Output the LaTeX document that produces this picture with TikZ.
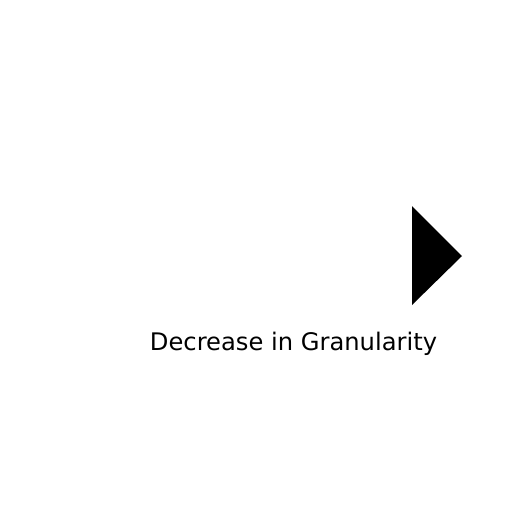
\documentclass[tikz,border=0pt]{standalone}
\usepackage{fontspec}
\setmainfont{DejaVu Sans}

\begin{document}
\begin{tikzpicture}[x=1pt,y=-1pt]
	\useasboundingbox (0,0) rectangle (512,512);
	\node(L) at (293.5,350)[anchor=base, inner sep=0pt, font=\fontsize{24.2}{28}\selectfont]{Decrease in Granularity};
	\coordinate(T) at (412,206);
	\coordinate(P) at (462,256);
	\coordinate(B) at (412,305);
	\fill [black] (T) -- (P) -- (B) -- cycle;
\end{tikzpicture}
\end{document}
